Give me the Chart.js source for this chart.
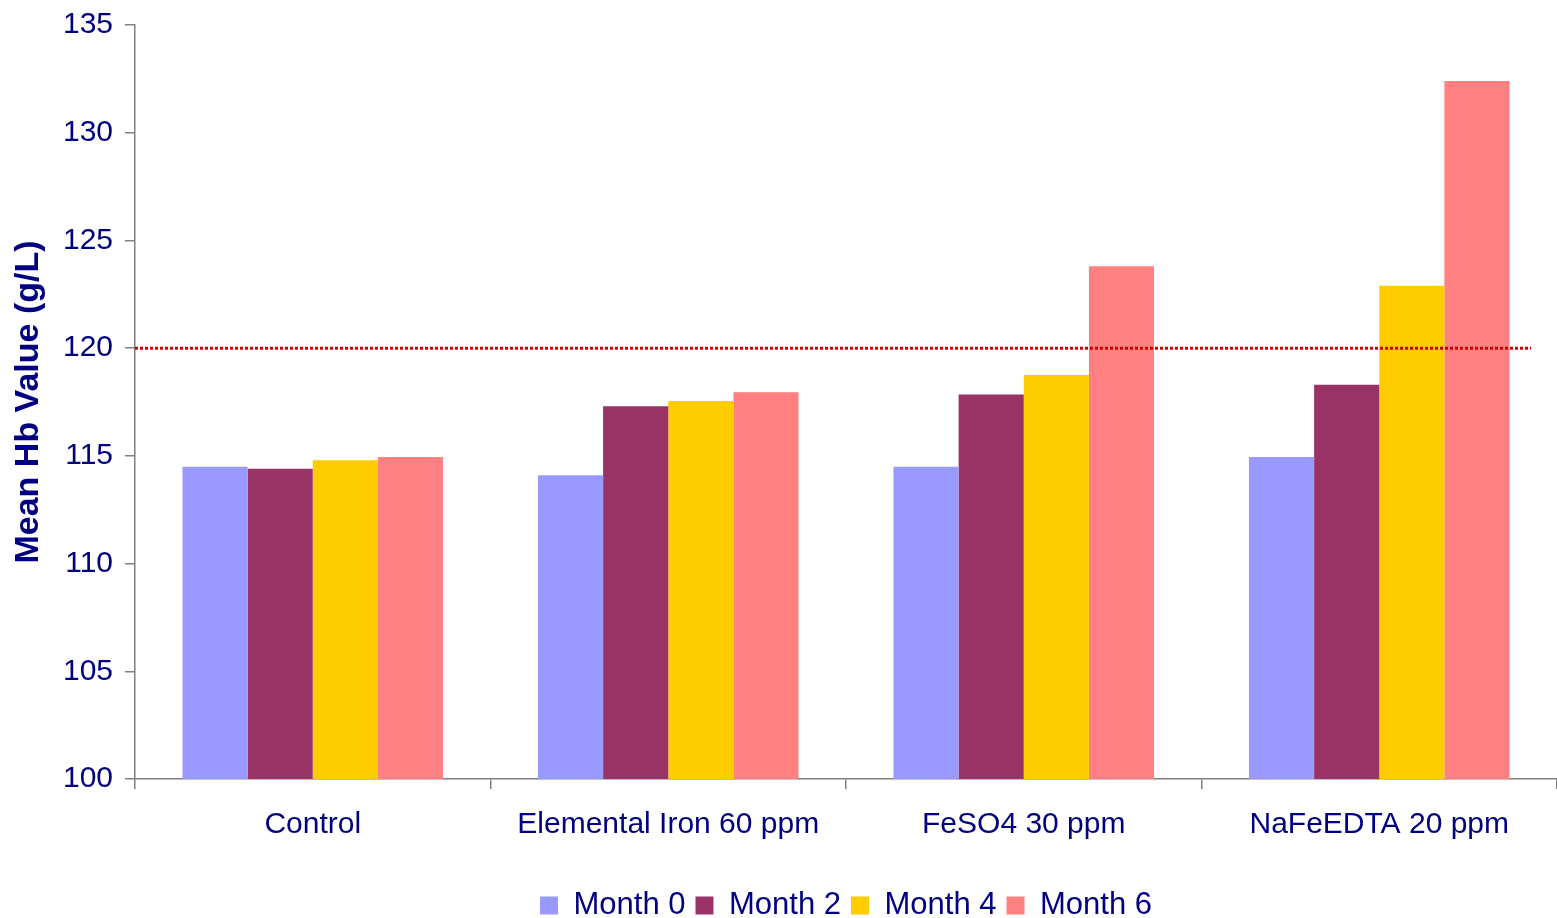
<!DOCTYPE html>
<html>
<head>
<meta charset="utf-8">
<script src="https://cdn.jsdelivr.net/npm/chart.js@4"></script>
<style>
html,body{margin:0;padding:0;background:#fff;}
#wrap{position:relative;width:1557px;height:918px;}
</style>
</head>
<body>
<div id="wrap"><canvas id="c" width="1557" height="918"></canvas></div>
<script>
const categories = ["Control", "Elemental Iron 60 ppm", "FeSO4 30 ppm", "NaFeEDTA 20 ppm"];
const seriesNames = ["Month 0", "Month 2", "Month 4", "Month 6"];
const month0 = [114.5, 114.1, 114.5, 114.95];
const month2 = [114.4, 117.3, 117.85, 118.3];
const month4 = [114.8, 117.55, 118.75, 122.9];
const month6 = [114.95, 117.95, 123.8, 132.4];
const referenceLevel = 120;
const yTicks = [100, 105, 110, 115, 120, 125, 130, 135];

const colors = ["#9999FF", "#993366", "#FFCC00", "#FF8080"];
const navy = "#000080";
const fontFam = "'Liberation Sans', Arial, sans-serif";

const refLinePlugin = {
  id: 'refLine',
  afterLayout(chart) {
    const lg = chart.legend;
    if (lg) {
      const ca = chart.chartArea;
      lg.left = ca.left;
      lg.right = ca.right;
      lg.width = ca.right - ca.left;
      lg.top += 13;
      lg.bottom += 13;
    }
  },
  afterDatasetsDraw(chart) {
    const y = chart.scales.y.getPixelForValue(referenceLevel);
    const ctx = chart.ctx;
    ctx.save();
    ctx.strokeStyle = "#CC0000";
    ctx.lineWidth = 3;
    ctx.setLineDash([3, 2]);
    ctx.beginPath();
    ctx.moveTo(chart.chartArea.left, y);
    ctx.lineTo(chart.chartArea.right - 26, y);
    ctx.stroke();
    ctx.restore();
  }
};

new Chart(document.getElementById('c'), {
  type: 'bar',
  data: {
    labels: categories,
    datasets: [month0, month2, month4, month6].map((d, i) => ({
      label: seriesNames[i],
      data: d,
      backgroundColor: colors[i],
      borderWidth: 0,
      barPercentage: 1.0,
      categoryPercentage: 0.733
    }))
  },
  options: {
    responsive: false,
    animation: false,
    devicePixelRatio: 1,
    layout: { padding: { top: 25, right: 0, left: 0, bottom: 0 } },
    plugins: {
      legend: {
        position: 'bottom',
        labels: {
          color: navy,
          font: { family: fontFam, size: 31 },
          boxWidth: 18,
          boxHeight: 18,
          padding: 10
        }
      },
      tooltip: { enabled: false },
      title: { display: false }
    },
    scales: {
      x: {
        grid: {
          offset: true,
          drawOnChartArea: false,
          drawTicks: true,
          tickLength: 10,
          color: "#808080",
          lineWidth: 1.5
        },
        border: { display: true, color: "#808080", width: 1.5 },
        ticks: {
          color: navy,
          font: { family: fontFam, size: 30 },
          padding: 18,
          maxRotation: 0
        },
        afterFit(scale) { scale.height = 88; scale.paddingLeft = 0; scale.paddingRight = 0; }
      },
      y: {
        min: 100,
        max: 135,
        afterBuildTicks(scale) { scale.ticks = yTicks.map(v => ({ value: v })); },
        grid: {
          drawOnChartArea: false,
          drawTicks: true,
          tickLength: 10,
          color: "#808080",
          lineWidth: 1.5
        },
        border: { display: true, color: "#808080", width: 1.5 },
        ticks: {
          color: navy,
          font: { family: fontFam, size: 30 },
          padding: 12
        },
        title: {
          display: true,
          text: "Mean Hb Value (g/L)",
          color: navy,
          font: { family: fontFam, size: 34, weight: 'bold' },
          padding: { top: 8, bottom: 4 }
        },
        afterFit(scale) { scale.width = 135; scale.paddingTop = 0; scale.paddingBottom = 0; }
      }
    }
  },
  plugins: [refLinePlugin]
});
</script>
</body>
</html>
